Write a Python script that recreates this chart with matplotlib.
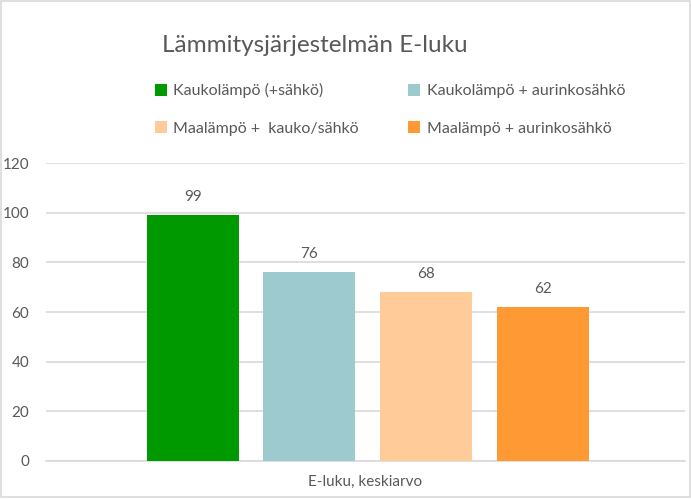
import matplotlib.pyplot as plt
from matplotlib.patches import Rectangle

plt.rcParams["font.family"] = ["Lato", "DejaVu Sans"]

title = "Lämmitysjärjestelmän E-luku"
category = "E-luku, keskiarvo"
series = [
    "Kaukolämpö (+sähkö)",
    "Kaukolämpö + aurinkosähkö",
    "Maalämpö +  kauko/sähkö",
    "Maalämpö + aurinkosähkö",
]
values = [99, 76, 68, 62]
colors = ["#009900", "#9DCACF", "#FFCC99", "#FF9933"]

text_color = "#595959"
grid_color = "#D9D9D9"

fig = plt.figure(figsize=(6.91, 4.99), dpi=100)
ax = fig.add_axes([0.0666, 0.0762, 0.9244, 0.5970])

# bars sit inside one category spanning 0..1
centers = [0.230, 0.412, 0.595, 0.778]
width = 0.144
bars = []
for c, v, col, lab in zip(centers, values, colors, series):
    b = ax.bar(c, v, width=width, color=col, label=lab, zorder=3)
    bars.append(b)
    ax.annotate(str(v), (c, v), xytext=(0, 8), textcoords="offset points",
                ha="center", va="bottom", fontsize=11, color=text_color)

ax.set_xlim(0, 1)
ax.set_ylim(0, 120)
ax.set_yticks(range(0, 121, 20))
ax.set_xticks([0.5])
ax.set_xticklabels([category])
ax.tick_params(axis="both", length=0, labelsize=11, labelcolor=text_color)
ax.tick_params(axis="y", pad=12)
ax.tick_params(axis="x", pad=10)
ax.grid(axis="y", color=grid_color, linewidth=1.2, zorder=0)
for s in ["top", "right", "left"]:
    ax.spines[s].set_visible(False)
ax.spines["bottom"].set_color(grid_color)
ax.spines["bottom"].set_linewidth(1.2)

fig.text(0.456, 0.909, title, ha="center", va="center", fontsize=17.5, color=text_color)

# legend fills row by row: reorder for column-major layout
order = [0, 2, 1, 3]
fig.legend([bars[i] for i in order], [series[i] for i in order],
           loc="upper left", bbox_to_anchor=(0.203, 0.862), ncol=2, frameon=False,
           fontsize=11.5, labelcolor=text_color, handlelength=0.75, handleheight=0.75,
           handletextpad=0.4, columnspacing=3.1, labelspacing=1.45)

fig.patches.append(Rectangle((0.001, 0.004), 0.997, 0.994, transform=fig.transFigure,
                             fill=False, edgecolor=grid_color, linewidth=1.2))

fig.savefig("out.png", dpi=100)
